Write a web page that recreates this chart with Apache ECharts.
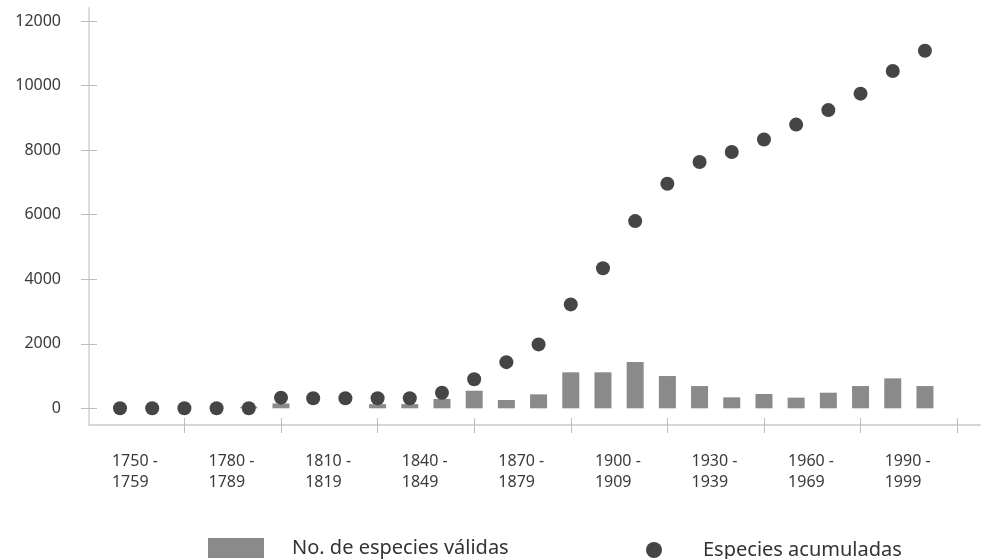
<!DOCTYPE html>
<html lang="es">
<head>
    <meta charset="UTF-8">
    <title>Especies</title>
    <script src="https://cdn.jsdelivr.net/npm/echarts@6.0.0/dist/echarts.min.js"></script>
    <style>
        html, body { margin: 0; padding: 0; background: #ffffff; }
        #main { width: 981px; height: 559px; }
    </style>
</head>
<body>
<div id="main"></div>

<script type="text/javascript">
    // decadas (inicio), una por punto
    var decades = [1750, 1760, 1770, 1780, 1790, 1800, 1810, 1820, 1830, 1840, 1850, 1860, 1870,
        1880, 1890, 1900, 1910, 1920, 1930, 1940, 1950, 1960, 1970, 1980, 1990, 2000];
    // No. de especies validas por decada
    var validas = [0, 0, 0, 0, 50, 150, 0, 0, 130, 130, 290, 545, 257,
        433, 1115, 1115, 1434, 1000, 690, 340, 443, 330, 484, 690, 928, 690];
    // Especies acumuladas
    var acumuladas = [0, 0, 0, 0, 0, 330, 310, 310, 310, 310, 480, 900, 1430,
        1980, 3220, 4340, 5800, 6960, 7630, 7940, 8330, 8790, 9240, 9750, 10450, 11080];
    // etiquetas del eje x (inicio de decada)
    var labelStarts = [1750, 1780, 1810, 1840, 1870, 1900, 1930, 1960, 1990];
    var yTicks = [0, 2000, 4000, 6000, 8000, 10000, 12000];

    var font = 'Noto Sans';
    var xTicks = [];
    for (var t = 2; t <= 26; t += 3) xTicks.push(t);
    var xLabelPos = labelStarts.map(function (d, k) { return k * 3 - 0.25; });

    var barData = validas.map(function (v, i) { return [i, v]; });
    var dotData = acumuladas.map(function (v, i) { return [i, v]; });

    var myChart = echarts.init(document.getElementById('main'));

    var option = {
        backgroundColor: '#ffffff',
        animation: false,
        grid: {
            left: 89,
            right: 1,
            top: 8,
            bottom: 134,
            outerBoundsMode: 'none'
        },
        legend: [
            {
                left: 208,
                top: 538,
                padding: 0,
                itemWidth: 56,
                itemHeight: 20,
                selectedMode: false,
                data: [{name: 'No. de especies válidas', icon: 'rect'}],
                textStyle: {
                    fontFamily: font,
                    fontSize: 20,
                    color: '#333',
                    padding: [0, 0, 0, 23]
                }
            },
            {
                left: 646,
                top: 540,
                padding: 0,
                itemWidth: 16,
                itemHeight: 16,
                selectedMode: false,
                data: [{name: 'Especies acumuladas', icon: 'circle'}],
                textStyle: {
                    fontFamily: font,
                    fontSize: 20,
                    color: '#333',
                    padding: [0, 0, 0, 36]
                }
            }
        ],
        xAxis: [
            {
                type: 'value',
                min: -0.963,
                max: 26.71,
                position: 'bottom',
                splitLine: {show: false},
                axisLine: {
                    show: true,
                    onZero: false,
                    lineStyle: {color: '#d6d6d6', width: 2}
                },
                axisTick: {
                    show: true,
                    customValues: xTicks,
                    length: 8,
                    lineStyle: {color: '#bdbdbd'}
                },
                axisLabel: {
                    customValues: xLabelPos,
                    align: 'left',
                    margin: 26,
                    fontFamily: font,
                    fontSize: 16,
                    lineHeight: 21,
                    color: '#3a3a3a',
                    formatter: function (v) {
                        var k = Math.round((v + 0.25) / 3);
                        var d = labelStarts[k];
                        return d + ' -\n' + (d + 9);
                    }
                }
            },
            {
                // parte superior de las marcas que cruzan el eje
                type: 'value',
                min: -0.963,
                max: 26.71,
                position: 'top',
                offset: -417,
                splitLine: {show: false},
                axisLine: {show: false, onZero: false},
                axisTick: {
                    show: true,
                    customValues: xTicks,
                    length: 7,
                    lineStyle: {color: '#bdbdbd'}
                },
                axisLabel: {show: false}
            }
        ],
        yAxis: [
            {
                type: 'value',
                min: -517,
                max: 12403,
                position: 'left',
                splitLine: {show: false},
                axisLine: {
                    show: true,
                    onZero: false,
                    lineStyle: {color: '#dcdcdc', width: 2}
                },
                axisTick: {
                    show: true,
                    customValues: yTicks,
                    length: 8,
                    lineStyle: {color: '#bdbdbd'}
                },
                axisLabel: {
                    customValues: yTicks,
                    margin: 28,
                    fontFamily: font,
                    fontSize: 16,
                    color: '#3a3a3a',
                    formatter: function (v) { return String(v); }
                }
            },
            {
                type: 'value',
                min: -517,
                max: 12403,
                position: 'right',
                offset: -891,
                splitLine: {show: false},
                axisLine: {show: false, onZero: false},
                axisTick: {
                    show: true,
                    customValues: yTicks,
                    length: 8,
                    lineStyle: {color: '#bdbdbd'}
                },
                axisLabel: {show: false}
            }
        ],
        series: [
            {
                name: 'No. de especies válidas',
                type: 'bar',
                xAxisIndex: 0,
                yAxisIndex: 0,
                barWidth: 17,
                itemStyle: {color: '#8a8a8a'},
                data: barData
            },
            {
                name: 'Especies acumuladas',
                type: 'scatter',
                xAxisIndex: 0,
                yAxisIndex: 0,
                symbol: 'circle',
                symbolSize: 14,
                itemStyle: {color: '#454545', opacity: 1},
                data: dotData
            }
        ]
    };

    myChart.setOption(option);
</script>
</body>
</html>
